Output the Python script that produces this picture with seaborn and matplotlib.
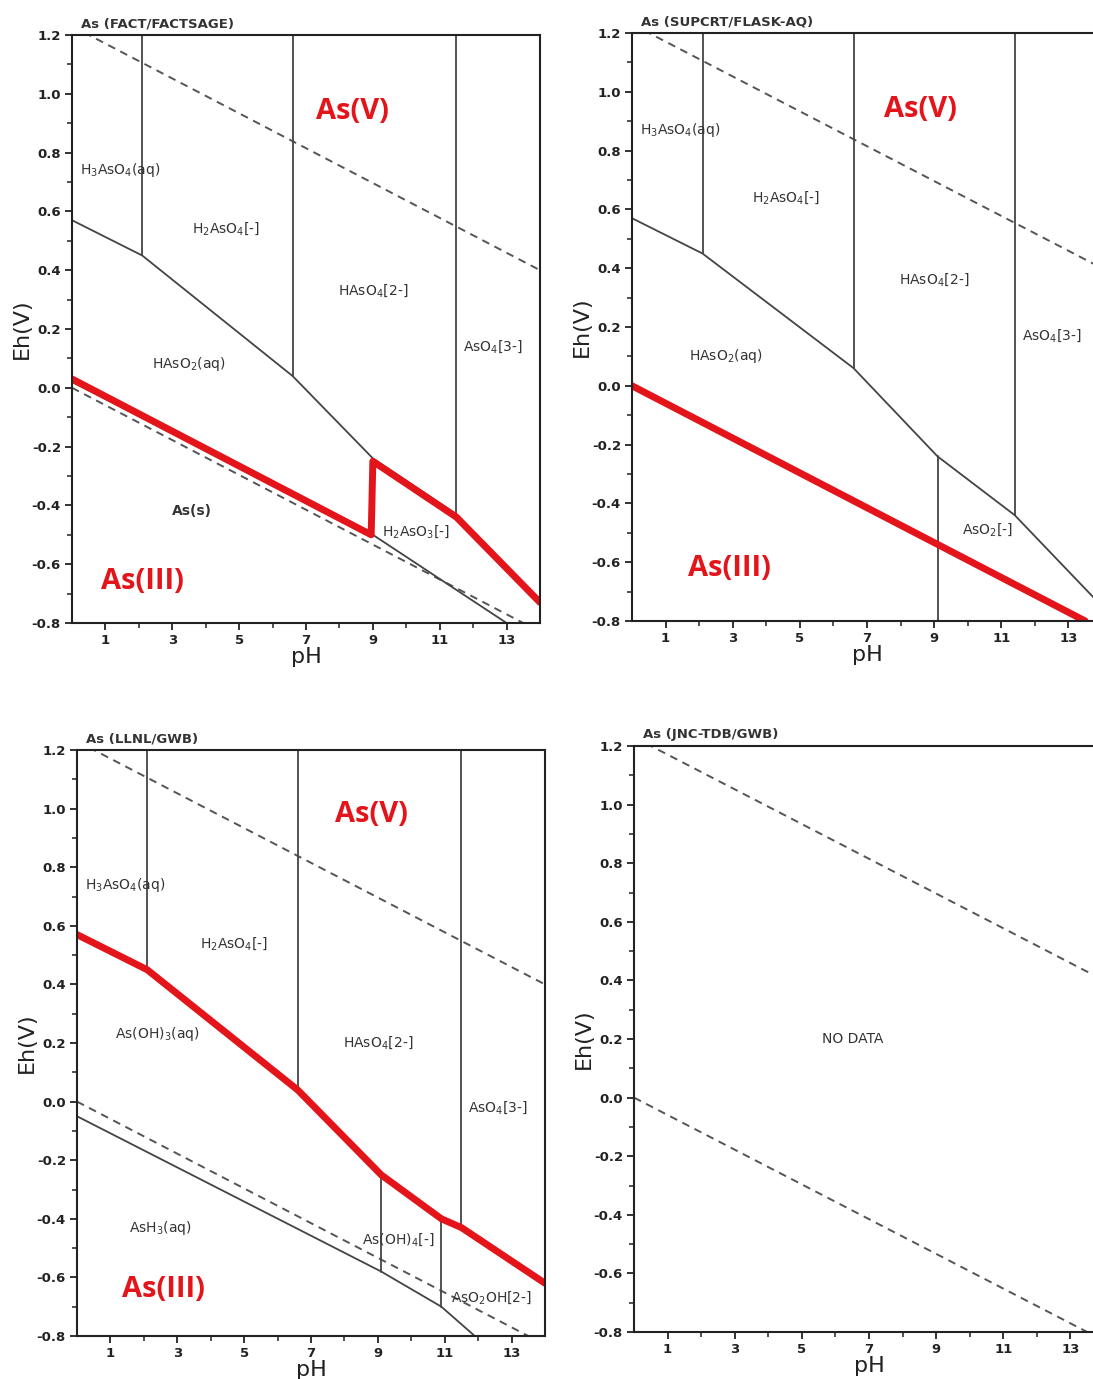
import matplotlib
matplotlib.use("Agg")
import matplotlib.pyplot as plt
import seaborn as sns
import numpy as np

# Diagramas Eh-pH del arsénico (4 bases de datos)

# Líneas del agua (límites de estabilidad)
WATER_UP_PH = [0.0, 14.0]
WATER_UP_EH = [1.23, 0.40]
WATER_LO_PH = [0.0, 13.5]
WATER_LO_EH = [0.0, -0.80]

# --- FACT/FACTSAGE ---
FACT_BOUND_PH = [0.0, 2.1, 6.6, 9.0, 11.5, 14.0]
FACT_BOUND_EH = [0.57, 0.45, 0.04, -0.24, -0.43, -0.73]
FACT_VERT_PH = [2.1, 6.6, 11.5]
FACT_VERT_EH = [0.45, 0.04, -0.43]
FACT_SOLID_PH = [0.0, 9.0, 13.0]
FACT_SOLID_EH = [0.02, -0.50, -0.80]
FACT_RED_PH = [0.0, 8.95, 9.0, 11.5, 14.0]
FACT_RED_EH = [0.03, -0.50, -0.25, -0.44, -0.73]
FACT_LABELS = ["H$_3$AsO$_4$(aq)", "H$_2$AsO$_4$[-]", "HAsO$_4$[2-]", "AsO$_4$[3-]",
               "HAsO$_2$(aq)", "As(s)", "H$_2$AsO$_3$[-]"]
FACT_LAB_PH = [1.45, 4.6, 9.0, 12.6, 3.5, 3.6, 10.3]
FACT_LAB_EH = [0.74, 0.54, 0.33, 0.14, 0.08, -0.42, -0.49]

# --- SUPCRT/FLASK-AQ ---
SUP_BOUND_PH = [0.0, 2.1, 6.6, 9.1, 11.4, 14.0]
SUP_BOUND_EH = [0.57, 0.45, 0.06, -0.24, -0.44, -0.75]
SUP_VERT_PH = [2.1, 6.6, 11.4]
SUP_VERT_EH = [0.45, 0.06, -0.44]
SUP_VERT2_PH = [9.1, 9.1]
SUP_VERT2_EH = [-0.24, -0.80]
SUP_RED_PH = [0.0, 13.5]
SUP_RED_EH = [0.0, -0.80]
SUP_LABELS = ["H$_3$AsO$_4$(aq)", "H$_2$AsO$_4$[-]", "HAsO$_4$[2-]", "AsO$_4$[3-]",
              "HAsO$_2$(aq)", "AsO$_2$[-]"]
SUP_LAB_PH = [1.45, 4.6, 9.0, 12.5, 2.8, 10.6]
SUP_LAB_EH = [0.87, 0.64, 0.36, 0.17, 0.10, -0.49]

# --- LLNL/GWB ---
LLNL_RED_PH = [0.0, 2.1, 6.6, 9.1, 10.9, 11.5, 14.0]
LLNL_RED_EH = [0.57, 0.45, 0.04, -0.25, -0.40, -0.43, -0.62]
LLNL_VERT_PH = [2.1, 6.6, 11.5]
LLNL_VERT_EH = [0.45, 0.04, -0.43]
LLNL_LOWV_PH = [9.1, 10.9]
LLNL_LOWV_TOP = [-0.25, -0.40]
LLNL_LOWV_BOT = [-0.58, -0.70]
LLNL_ASH3_PH = [0.0, 9.1, 10.9, 11.9]
LLNL_ASH3_EH = [-0.05, -0.58, -0.70, -0.80]
LLNL_LABELS = ["H$_3$AsO$_4$(aq)", "H$_2$AsO$_4$[-]", "As(OH)$_3$(aq)", "HAsO$_4$[2-]",
               "AsO$_4$[3-]", "AsH$_3$(aq)", "As(OH)$_4$[-]", "AsO$_2$OH[2-]"]
LLNL_LAB_PH = [1.45, 4.7, 2.4, 9.0, 12.6, 2.5, 9.6, 12.4]
LLNL_LAB_EH = [0.74, 0.54, 0.23, 0.20, -0.02, -0.43, -0.47, -0.67]

# Títulos y anotaciones en rojo
TITLES = ["As (FACT/FACTSAGE)", "As (SUPCRT/FLASK-AQ)", "As (LLNL/GWB)", "As (JNC-TDB/GWB)"]
ASV_PH = [8.4, 8.6, 8.8]
ASV_EH = [0.94, 0.94, 0.98]
ASIII_PH = [2.1, 2.9, 2.6]
ASIII_EH = [-0.66, -0.62, -0.64]

RED = "#e3151b"
GRAY = "#444444"

sns.set_style("ticks")
plt.rcParams['font.family'] = ['DejaVu Sans']
plt.rcParams['mathtext.default'] = 'regular'
plt.rcParams['axes.unicode_minus'] = False

W, H = 1093, 1379
fig = plt.figure(figsize=(W / 100, H / 100), dpi=100)


def add_ax(l, r, t, b):
    return fig.add_axes([l / W, 1 - b / H, (r - l) / W, (b - t) / H])


def linea(ax, xs, ys, **kw):
    sns.lineplot(x=xs, y=ys, ax=ax, sort=False, estimator=None, **kw)


def preparar(ax, titulo):
    ax.set_xlim(0, 14)
    ax.set_ylim(-0.8, 1.2)
    ax.set_xticks([1, 3, 5, 7, 9, 11, 13])
    ax.set_xticks([2, 4, 6, 8, 10, 12], minor=True)
    yt = np.round(np.arange(-0.8, 1.21, 0.2), 1)
    ax.set_yticks(yt)
    ax.set_yticks(np.round(np.arange(-0.7, 1.2, 0.2), 1), minor=True)
    ax.set_xticklabels([str(v) for v in [1, 3, 5, 7, 9, 11, 13]], fontweight='bold')
    ax.set_yticklabels([f"{v:.1f}".replace("-0.0", "0.0") for v in yt], fontweight='bold')
    ax.tick_params(which='major', direction='out', length=5, width=1.3,
                   labelsize=9.5, pad=3, colors='#222222')
    ax.tick_params(which='minor', direction='out', length=3.5, width=1.1, colors='#222222')
    for s in ax.spines.values():
        s.set_linewidth(1.5)
        s.set_color('#222222')
    ax.set_xlabel('pH', fontsize=16, labelpad=0, color='#222222')
    ax.set_ylabel('Eh(V)', fontsize=16, labelpad=0, color='#222222')
    ax.text(0.02, 1.008, titulo, transform=ax.transAxes, fontsize=9.5,
            fontweight='bold', color='#333333', va='bottom', ha='left')
    linea(ax, WATER_UP_PH, WATER_UP_EH, color='#555555', lw=1.4,
          linestyle=(0, (4, 3)))
    linea(ax, WATER_LO_PH, WATER_LO_EH, color='#555555', lw=1.4,
          linestyle=(0, (4, 3)))


def verticales(ax, phs, lows, top=1.2):
    for p, lo in zip(phs, lows):
        linea(ax, [p, p], [top, lo], color=GRAY, lw=1.3)


def etiquetas(ax, textos, xs, ys):
    for t, x, y in zip(textos, xs, ys):
        peso = 'bold' if t == 'As(s)' else 'normal'
        ax.text(x, y, t, fontsize=10, color='#333333', ha='center', va='center',
                fontweight=peso)


def rojos(ax, i):
    ax.text(ASV_PH[i], ASV_EH[i], 'As(V)', color=RED, fontsize=21,
            fontweight='bold', family=['Open Sans', 'DejaVu Sans'],
            ha='center', va='center')
    ax.text(ASIII_PH[i], ASIII_EH[i], 'As(III)', color=RED, fontsize=21,
            fontweight='bold', family=['Open Sans', 'DejaVu Sans'],
            ha='center', va='center')


# Panel 1: FACT/FACTSAGE
ax1 = add_ax(72, 540, 35, 623)
preparar(ax1, TITLES[0])
linea(ax1, FACT_BOUND_PH, FACT_BOUND_EH, color=GRAY, lw=1.3)
verticales(ax1, FACT_VERT_PH, FACT_VERT_EH)
linea(ax1, FACT_SOLID_PH, FACT_SOLID_EH, color=GRAY, lw=1.3)
linea(ax1, FACT_RED_PH, FACT_RED_EH, color=RED, lw=5)
etiquetas(ax1, FACT_LABELS, FACT_LAB_PH, FACT_LAB_EH)
rojos(ax1, 0)

# Panel 2: SUPCRT/FLASK-AQ
ax2 = add_ax(632, 1102, 33, 621)
preparar(ax2, TITLES[1])
linea(ax2, SUP_BOUND_PH, SUP_BOUND_EH, color=GRAY, lw=1.3)
verticales(ax2, SUP_VERT_PH, SUP_VERT_EH)
linea(ax2, SUP_VERT2_PH, SUP_VERT2_EH, color=GRAY, lw=1.3)
linea(ax2, SUP_RED_PH, SUP_RED_EH, color=RED, lw=5)
etiquetas(ax2, SUP_LABELS, SUP_LAB_PH, SUP_LAB_EH)
rojos(ax2, 1)

# Panel 3: LLNL/GWB
ax3 = add_ax(77, 545, 750, 1336)
preparar(ax3, TITLES[2])
verticales(ax3, LLNL_VERT_PH, LLNL_VERT_EH)
for p, t, b in zip(LLNL_LOWV_PH, LLNL_LOWV_TOP, LLNL_LOWV_BOT):
    linea(ax3, [p, p], [t, b], color=GRAY, lw=1.3)
linea(ax3, LLNL_ASH3_PH, LLNL_ASH3_EH, color=GRAY, lw=1.3)
linea(ax3, LLNL_RED_PH, LLNL_RED_EH, color=RED, lw=5)
etiquetas(ax3, LLNL_LABELS, LLNL_LAB_PH, LLNL_LAB_EH)
rojos(ax3, 2)

# Panel 4: JNC-TDB/GWB (sin datos)
ax4 = add_ax(634, 1104, 746, 1332)
preparar(ax4, TITLES[3])
ax4.text(6.5, 0.2, 'NO DATA', fontsize=10, color='#333333', ha='center', va='center')

fig.savefig('out.png', dpi=100)
